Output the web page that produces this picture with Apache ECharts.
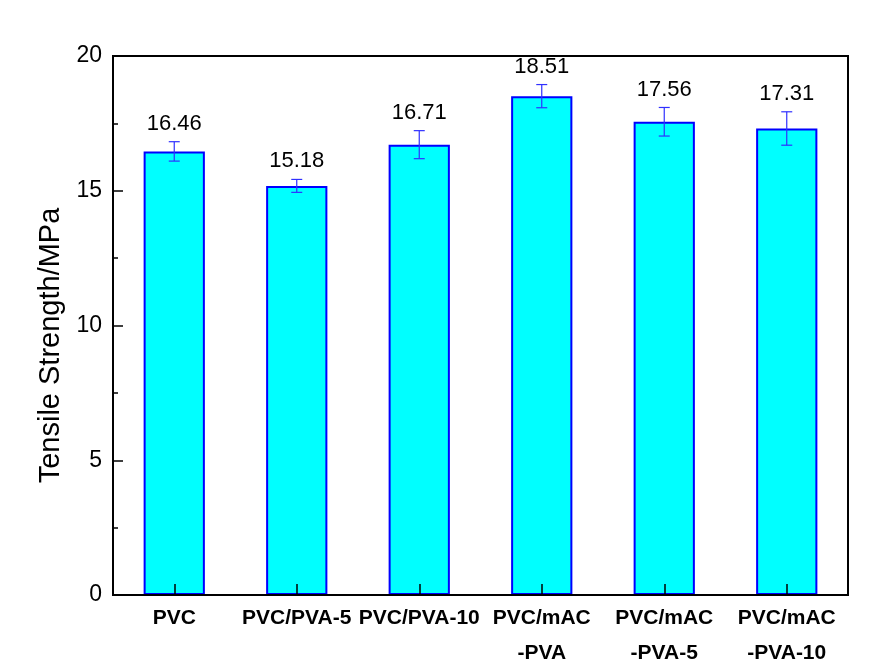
<!DOCTYPE html>
<html>
<head>
<meta charset="utf-8">
<script src="https://cdn.jsdelivr.net/npm/echarts@6/dist/echarts.min.js"></script>
<style>
  html, body { margin: 0; padding: 0; background: #ffffff; }
  #chart { width: 894px; height: 671px; }
</style>
</head>
<body>
<div id="chart"></div>
<script>
// Sample names (second line of the mAC samples wraps below)
const categories = ['PVC', 'PVC/PVA-5', 'PVC/PVA-10', 'PVC/mAC\n-PVA', 'PVC/mAC\n-PVA-5', 'PVC/mAC\n-PVA-10'];
// Mean tensile strength (MPa)
const strength = [16.46, 15.18, 16.71, 18.51, 17.56, 17.31];
// Standard deviation (MPa)
const deviation = [0.36, 0.24, 0.52, 0.43, 0.53, 0.62];
// Y-axis tick values
const yTicks = [0, 5, 10, 15, 20];

const errData = strength.map((v, i) => [i, v, deviation[i]]);

const chart = echarts.init(document.getElementById('chart'), null, { renderer: 'canvas' });

// Error bar with caps, plus the mean value printed above it
function renderError(params, api) {
  const x = api.value(0);
  const v = api.value(1);
  const e = api.value(2);
  const hi = api.coord([x, v + e]);
  const lo = api.coord([x, v - e]);
  const cap = 5.5;
  const lineStyle = { stroke: '#3030ff', lineWidth: 1.2 };
  return {
    type: 'group',
    children: [
      { type: 'line', shape: { x1: hi[0], y1: hi[1], x2: lo[0], y2: lo[1] }, style: lineStyle },
      { type: 'line', shape: { x1: hi[0] - cap, y1: hi[1], x2: hi[0] + cap, y2: hi[1] }, style: lineStyle },
      { type: 'line', shape: { x1: lo[0] - cap, y1: lo[1], x2: lo[0] + cap, y2: lo[1] }, style: lineStyle },
      {
        type: 'text',
        x: hi[0],
        y: hi[1] - 18,
        style: {
          text: v.toFixed(2),
          fontFamily: 'Liberation Sans, Arial, sans-serif',
          fontSize: 22,
          fill: '#000000',
          align: 'center',
          verticalAlign: 'middle'
        }
      }
    ]
  };
}

chart.setOption({
  backgroundColor: '#ffffff',
  animation: false,
  grid: {
    left: 113, right: 46, top: 56, bottom: 72,
    show: true, borderColor: '#000000', borderWidth: 2, backgroundColor: 'transparent', z: 0
  },
  xAxis: {
    type: 'category',
    data: categories,
    boundaryGap: true,
    z: 10,
    axisLine: { lineStyle: { color: '#000000', width: 2 } },
    axisTick: { show: true, inside: true, alignWithLabel: true, length: 11, lineStyle: { color: '#000000', width: 1.5 } },
    axisLabel: {
      interval: 0,
      margin: 6,
      fontFamily: 'Liberation Sans, Arial, sans-serif',
      fontWeight: 'bold',
      fontSize: 21,
      lineHeight: 35,
      color: '#000000'
    }
  },
  yAxis: {
    type: 'value',
    min: yTicks[0],
    max: yTicks[yTicks.length - 1],
    interval: 5,
    z: 10,
    name: 'Tensile Strength/MPa',
    nameLocation: 'middle',
    nameGap: 47,
    nameTextStyle: {
      fontFamily: 'Liberation Sans, Arial, sans-serif',
      fontSize: 29,
      color: '#000000',
      padding: [0, 40, 0, 0]
    },
    axisLine: { show: true, lineStyle: { color: '#000000', width: 2 } },
    axisTick: { show: true, inside: true, length: 10, lineStyle: { color: '#000000', width: 1.5 } },
    minorTick: { show: true, splitNumber: 2, length: 5, lineStyle: { color: '#000000', width: 1.5 } },
    splitLine: { show: false },
    axisLabel: {
      margin: 11,
      fontFamily: 'Liberation Sans, Arial, sans-serif',
      fontSize: 23,
      color: '#000000'
    }
  },
  series: [
    {
      type: 'bar',
      data: strength,
      barWidth: '50%',
      itemStyle: { color: '#00ffff', borderColor: '#0000ff', borderWidth: 2 },
      z: 2
    },
    {
      type: 'custom',
      data: errData,
      renderItem: renderError,
      encode: { x: 0, y: 1 },
      z: 3
    }
  ]
});
</script>
</body>
</html>
